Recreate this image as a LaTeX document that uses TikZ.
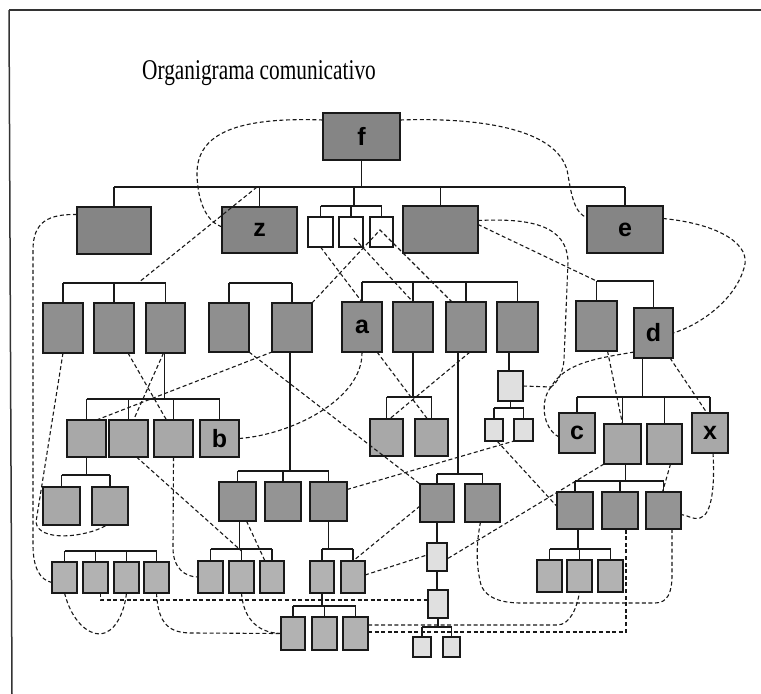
\documentclass[tikz,border=0pt]{standalone}
\usepackage{fontspec}
\setmainfont{Liberation Serif}
\newfontfamily\lblfont{Liberation Sans}
\usetikzlibrary{calc}
\definecolor{lvA}{gray}{0.52}
\definecolor{lvB}{gray}{0.56}
\definecolor{lvF}{gray}{0.58}
\definecolor{lvC}{gray}{0.66}
\definecolor{lvE}{gray}{0.70}
\definecolor{lvL}{gray}{0.88}
\newcommand{\bx}[7]{%
  \pgfmathsetmacro\bxw{#4-#2}\pgfmathsetmacro\bxh{#5-#3}%
  \pgfmathsetmacro\bxx{(#2+#4)/2}\pgfmathsetmacro\bxy{(#3+#5)/2}%
  \node[box,#6,minimum width=\bxw pt,minimum height=\bxh pt] (#1) at (\bxx,\bxy) {#7};}
\begin{document}
\begin{tikzpicture}[x=1pt,y=-1pt,
  box/.style={draw=black!90,line width=1.3pt,inner sep=0pt,outer sep=0pt,
    font=\lblfont\bfseries\fontsize{25}{25}\selectfont},
  tree/.style={draw=black!90,line width=1.2pt},
  conn/.style={draw=black!90,line width=1.1pt,dash pattern=on 4pt off 2.6pt}]
\useasboundingbox (0,0) rectangle (761,694);
\fill[white] (0,0) rectangle (761,694);
\draw[line width=1.5pt,black!80] (9,10) -- (761,10);
\draw[line width=1.5pt,black!80] (9,10) -- (12,694);
\node[font=\fontsize{22}{26}\selectfont,anchor=base,inner sep=0pt] (title) at (259,79) {\scalebox{0.97}[1.3]{Organigrama comunicativo}};
% level 1
\bx{f}{323}{113}{400}{160}{fill=lvA}{f}
\bx{box1}{77}{207}{151}{254}{fill=lvA}{}
\bx{z}{222}{207}{297}{253}{fill=lvA}{z}
\bx{s1}{308}{217}{333}{247}{fill=white}{}
\bx{s2}{339}{217}{363}{247}{fill=white}{}
\bx{s3}{370}{217}{393}{247}{fill=white}{}
\bx{box4}{403}{206}{478}{253}{fill=lvA}{}
\bx{e}{587}{206}{663}{253}{fill=lvA}{e}
% level 2
\bx{B1}{43}{303}{83}{353}{fill=lvB}{}
\bx{B2}{94}{303}{134}{353}{fill=lvB}{}
\bx{B3}{146}{303}{185}{353}{fill=lvB}{}
\bx{B4}{209}{303}{249}{352}{fill=lvB}{}
\bx{B5}{272}{303}{312}{352}{fill=lvB}{}
\bx{a}{342}{302}{382}{352}{fill=lvB}{a}
\bx{a2}{393}{302}{433}{352}{fill=lvB}{}
\bx{a3}{446}{302}{486}{352}{fill=lvB}{}
\bx{a4}{497}{302}{538}{352}{fill=lvB}{}
\bx{d1}{576}{301}{617}{351}{fill=lvB}{}
\bx{d}{634}{308}{673}{358}{fill=lvB}{d}
% level 3
\bx{C1}{67}{420}{106}{457}{fill=lvC}{}
\bx{C2}{109}{420}{148}{457}{fill=lvC}{}
\bx{C3}{154}{420}{193}{457}{fill=lvC}{}
\bx{b}{200}{420}{239}{457}{fill=lvC}{b}
\bx{D1}{43}{487}{80}{525}{fill=lvC}{}
\bx{D2}{92}{487}{128}{525}{fill=lvC}{}
\bx{E1}{52}{562}{77}{593}{fill=lvE}{}
\bx{E2}{83}{562}{108}{593}{fill=lvE}{}
\bx{E3}{114}{562}{139}{593}{fill=lvE}{}
\bx{E4}{144}{562}{169}{593}{fill=lvE}{}
\bx{F1}{219}{482}{256}{521}{fill=lvF}{}
\bx{F2}{265}{482}{301}{521}{fill=lvF}{}
\bx{F3}{310}{482}{347}{521}{fill=lvF}{}
\bx{G1}{198}{561}{223}{593}{fill=lvE}{}
\bx{G2}{229}{561}{254}{593}{fill=lvE}{}
\bx{G3}{260}{561}{284}{593}{fill=lvE}{}
\bx{H1}{310}{561}{334}{593}{fill=lvE}{}
\bx{H2}{341}{561}{365}{593}{fill=lvE}{}
\bx{I1}{281}{617}{305}{650}{fill=lvE}{}
\bx{I2}{312}{617}{337}{650}{fill=lvE}{}
\bx{I3}{343}{617}{368}{650}{fill=lvE}{}
\bx{J1}{370}{419}{403}{456}{fill=lvC}{}
\bx{J2}{415}{419}{448}{456}{fill=lvC}{}
\bx{K1}{420}{484}{454}{522}{fill=lvF}{}
\bx{K2}{465}{484}{500}{522}{fill=lvF}{}
\bx{L1}{427}{543}{447}{571}{fill=lvL}{}
\bx{L2}{428}{590}{448}{618}{fill=lvL}{}
\bx{M1}{413}{637}{431}{657}{fill=lvL}{}
\bx{M2}{443}{637}{460}{657}{fill=lvL}{}
\bx{N}{498}{371}{523}{401}{fill=lvL}{}
\bx{O1}{485}{419}{503}{441}{fill=lvL}{}
\bx{O2}{514}{419}{533}{441}{fill=lvL}{}
\bx{c}{559}{413}{595}{453}{fill=lvC}{c}
\bx{P2}{604}{424}{641}{464}{fill=lvC}{}
\bx{P3}{647}{424}{682}{464}{fill=lvC}{}
\bx{x}{692}{413}{728}{453}{fill=lvC}{x}
\bx{Q1}{557}{492}{593}{529}{fill=lvF}{}
\bx{Q2}{602}{492}{638}{529}{fill=lvF}{}
\bx{Q3}{646}{492}{681}{529}{fill=lvF}{}
\bx{R1}{537}{560}{562}{592}{fill=lvE}{}
\bx{R2}{567}{560}{592}{592}{fill=lvE}{}
\bx{R3}{598}{560}{623}{592}{fill=lvE}{}
% ---- tree lines
\coordinate (y0) at (0,187);
\draw[tree] (f.south) -- (f.south |- y0);
\draw[tree] (box1.north |- y0) -- (e.north |- y0);
\foreach \n in {box1,z,box4,e} \draw[tree] (\n.north) -- (\n.north |- y0);
\coordinate (sg) at (354,206);
\draw[tree] (sg |- y0) -- (sg);
\draw[tree] (s1.north |- sg) -- (s3.north |- sg);
\foreach \n in {s1,s2,s3} \draw[tree] (\n.north) -- (\n.north |- sg);
\coordinate (yB) at (0,283);
\draw[tree] (B1.north |- yB) -- (B3.north |- yB);
\draw[tree] (B4.north |- yB) -- (B5.north |- yB);
\foreach \n in {B1,B2,B3,B4,B5} \draw[tree] (\n.north) -- (\n.north |- yB);
\coordinate (ya) at (0,282);
\draw[tree] (a.north |- ya) -- (a4.north |- ya);
\foreach \n in {a,a2,a3,a4} \draw[tree] (\n.north) -- (\n.north |- ya);
\coordinate (yd) at (0,281);
\draw[tree] (d1.north |- yd) -- (d.north |- yd);
\foreach \n in {d1,d} \draw[tree] (\n.north) -- (\n.north |- yd);
% C group
\coordinate (yC) at (0,399);
\draw[tree] ([xshift=-1pt]B3.south) -- ([xshift=-1pt]B3.south |- yC);
\draw[tree] (C1.north |- yC) -- (b.north |- yC);
\foreach \n in {C1,C2,C3,b} \draw[tree] (\n.north) -- (\n.north |- yC);
% D group
\coordinate (yD) at (0,475);
\draw[tree] (C1.south) -- (C1.south |- yD);
\draw[tree] (D1.north |- yD) -- (D2.north |- yD);
\foreach \n in {D1,D2} \draw[tree] (\n.north) -- (\n.north |- yD);
% E group
\coordinate (yE) at (0,551);
\draw[tree] (E1.north |- yE) -- (E4.north |- yE);
\foreach \n in {E1,E2,E3,E4} \draw[tree] (\n.north) -- (\n.north |- yE);
% F group
\coordinate (yF) at (0,471);
\draw[tree] ([xshift=-2pt]B5.south) -- ([xshift=-2pt]B5.south |- yF);
\draw[tree] (F1.north |- yF) -- (F3.north |- yF);
\foreach \n in {F1,F2,F3} \draw[tree] (\n.north) -- (\n.north |- yF);
% G and H groups
\coordinate (yG) at (0,549);
\draw[tree] ([xshift=2pt]F1.south) -- ([xshift=2pt]F1.south |- yG);
\draw[tree] (G1.north |- yG) -- (G3.north |- yG);
\foreach \n in {G1,G2,G3} \draw[tree] (\n.north) -- (\n.north |- yG);
\draw[tree] (F3.south) -- (F3.south |- yG);
\draw[tree] (H1.north |- yG) -- (H2.north |- yG);
\foreach \n in {H1,H2} \draw[tree] (\n.north) -- (\n.north |- yG);
% I group
\coordinate (yI) at (0,606);
\draw[tree] (H1.south) -- (H1.south |- yI);
\draw[tree] (I1.north |- yI) -- (I3.north |- yI);
\foreach \n in {I1,I2,I3} \draw[tree] (\n.north) -- (\n.north |- yI);
% J group
\coordinate (yJ) at (0,397);
\draw[tree] (a2.south) -- (a2.south |- yJ);
\draw[tree] (J1.north |- yJ) -- (J2.north |- yJ);
\foreach \n in {J1,J2} \draw[tree] (\n.north) -- (\n.north |- yJ);
% K group
\coordinate (yK) at (0,474);
\draw[tree] ([xshift=-8pt]a3.south) -- ([xshift=-8pt]a3.south |- yK);
\draw[tree] (K1.north |- yK) -- (K2.north |- yK);
\foreach \n in {K1,K2} \draw[tree] (\n.north) -- (\n.north |- yK);
% L / M chain
\draw[tree] (K1.south) -- (L1.north);
\draw[tree] (L1.south) -- (L1.south |- L2.north);
\coordinate (yM) at (0,627);
\draw[tree] (L2.south) -- (L2.south |- yM);
\draw[tree] (M1.north |- yM) -- (M2.north |- yM);
\foreach \n in {M1,M2} \draw[tree] (\n.north) -- (\n.north |- yM);
% N / O
\draw[tree] ([xshift=-1.5pt]N.north) -- ([xshift=-1.5pt]N.north |- a4.south);
\coordinate (yO) at (0,408);
\draw[tree] (N.south) -- (N.south |- yO);
\draw[tree] (O1.north |- yO) -- (O2.north |- yO);
\foreach \n in {O1,O2} \draw[tree] (\n.north) -- (\n.north |- yO);
% P group
\coordinate (yP) at (0,397);
\draw[tree] ([xshift=-11pt]d.south) -- ([xshift=-11pt]d.south |- yP);
\draw[tree] (c.north |- yP) -- (x.north |- yP);
\foreach \n in {c,P2,P3,x} \draw[tree] (\n.north) -- (\n.north |- yP);
% Q group
\coordinate (yQ) at (0,481);
\draw[tree] ([xshift=3pt]P2.south) -- ([xshift=3pt]P2.south |- yQ);
\draw[tree] (Q1.north |- yQ) -- (Q3.north |- yQ);
\foreach \n in {Q1,Q2,Q3} \draw[tree] (\n.north) -- (\n.north |- yQ);
% R group
\coordinate (yR) at (0,549);
\draw[tree] ([xshift=3pt]Q1.south) -- ([xshift=3pt]Q1.south |- yR);
\draw[tree] (R1.north |- yR) -- (R3.north |- yR);
\foreach \n in {R1,R2,R3} \draw[tree] (\n.north) -- (\n.north |- yR);
% ---- dashed connectors
\draw[conn] ([yshift=-7pt]f.north west) .. controls (240,117) and (196,132) .. (197,175) .. controls (198,205) and (208,222) .. ([yshift=3pt]z.west);
\draw[conn] ([yshift=-7pt]f.north east) .. controls (490,117) and (562,132) .. (568,175) .. controls (572,200) and (576,214) .. ([yshift=12pt]e.west);
\coordinate (zb) at (257,187);
\coordinate (lb) at (138,283);
\draw[conn] (zb) -- (lb);
\draw[conn] ([yshift=16pt]box1.west) .. controls (48,214) and (33,222) .. (33,250) -- (33,545) .. controls (33,568) and (40,580) .. ([yshift=-5pt]E1.west);
\draw[conn] (B1.south) -- (36,522) .. controls (38,542) and (85,538) .. ([xshift=-3pt]D2.south);
\draw[conn] ([xshift=-6pt]B2.south east) -- ([xshift=-7pt]C3.north);
\draw[conn] ([xshift=-2pt]B3.south) -- ([xshift=5pt]C2.north);
\draw[conn] ([xshift=10pt]C1.north) -- (B5.south west);
\draw[conn] (B5.north east) -- ([xshift=-1.5pt,yshift=2pt]s3.center) -- ([xshift=-14pt]a3.north);
\draw[conn] (s1.south) -- (a.north);
\draw[conn] ([xshift=3pt,yshift=-6pt]s2.center) -- (a2.north);
\draw[conn] ([yshift=5pt]box4.east) -- (d1.north |- yd);
\coordinate (J) at (551,387);
\draw[conn] ([yshift=9pt]box4.east) .. controls (530,218) and (567,225) .. (568,262) -- (564,360) .. controls (563,372) and (558,382) .. (J);
\draw[conn] ([yshift=6pt]d.south west) .. controls (600,358) and (565,362) .. (J);
\draw[conn] (N.east) -- (J);
\draw[conn] (J) .. controls (540,400) and (542,428) .. ([yshift=-4pt]c.west);
\draw[conn] ([yshift=11pt]e.east) .. controls (720,224) and (752,245) .. (744,268) .. controls (735,300) and (700,325) .. (d.east);
\draw[conn] ([xshift=-3pt]d.south east) -- ([xshift=-3pt]x.north);
\draw[conn] ([xshift=11pt]d1.south) -- (P2.north);
\draw[conn] ([xshift=3pt]x.south) .. controls (715,485) and (712,515) .. (700,518) .. controls (692,520) and (688,515) .. ([yshift=-4pt]Q3.east);
\draw[conn] ([xshift=6pt]P3.south) -- ([xshift=-1pt]Q3.north);
\draw[conn] (P2.south west) -- ([yshift=-2pt]L1.east);
\draw[conn] ([yshift=12pt]F3.east) -- (O2.south west);
\draw[conn] ([yshift=2pt]H2.east) -- ([yshift=2pt]L1.west);
\draw[conn] ([yshift=-3pt]K1.west) -- (H2.north);
\draw[conn] (B4.south east) -- (K1.north west);
\draw[conn] (a.south) .. controls (363,400) and (290,435) .. (b.east);
\draw[conn] ([xshift=-5pt]a.south east) -- ([xshift=-4pt]J2.north);
\draw[conn] ([xshift=4pt]a3.south) -- ([xshift=3pt]J1.north);
\draw[conn] ([xshift=3pt]O1.south) -- ([yshift=4pt]Q1.west);
\draw[conn] ([xshift=8pt]C2.south) -- ([yshift=10pt]G2.north);
\draw[conn] (C3.south) -- (173,548) .. controls (173,568) and (185,577) .. (G1.west);
\draw[conn] ([xshift=9pt]F1.south) -- ([xshift=-7pt]G3.north);
\draw[conn] (G2.south) .. controls (243,615) and (255,633) .. (I1.west);
\draw[conn] (E4.south) .. controls (158,625) and (170,633) .. (192,633) -- (I1.west);
\draw[conn] (E1.south) .. controls (72,622) and (88,634) .. (100,634) .. controls (114,633) and (124,615) .. (E3.south);
\draw[conn] ([xshift=5pt]E2.south) -- ++(0,7) -- ([yshift=4pt]L2.west);
\draw[conn] ([yshift=8.5pt]I3.east) -- (557,625) .. controls (570,625) and (577,608) .. (R2.south);
\draw[conn] ([yshift=1.5pt]I3.east) -| ([xshift=6pt]Q2.south);
\draw[conn] ([xshift=-2pt]K2.south) .. controls (476,545) and (476,565) .. (481,585) .. controls (487,600) and (505,603) .. (522,603) -- (655,603) .. controls (668,603) and (672,592) .. (672,575) -- ([xshift=8.5pt]Q3.south);
\end{tikzpicture}
\end{document}
